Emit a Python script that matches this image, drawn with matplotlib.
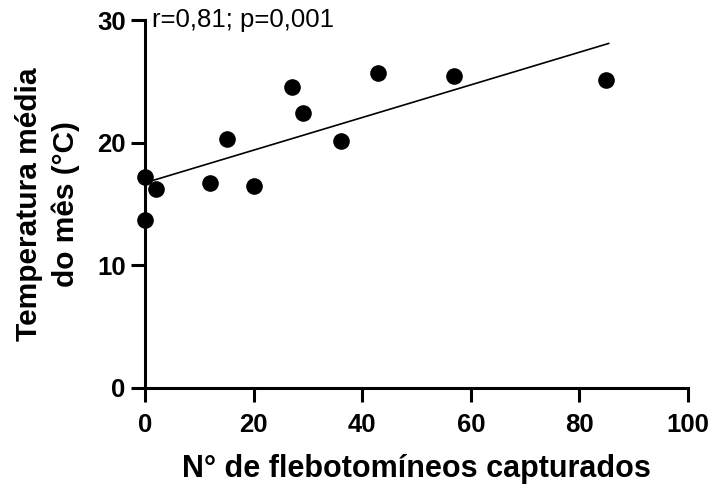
import matplotlib
matplotlib.use('Agg')
import numpy as np
import matplotlib.pyplot as plt

plt.rcParams['font.family'] = ['Liberation Sans', 'DejaVu Sans']

# data
n_flebotomineos = [0, 0, 2, 12, 15, 20, 27, 29, 36, 43, 57, 85]
temperatura = [17.2, 13.7, 16.2, 16.7, 20.3, 16.5, 24.5, 22.4, 20.1, 25.7, 25.4, 25.1]

# regression line
fit_intercept = 16.73
fit_slope = 0.133
fit_x = [0, 85.4]

x_ticks = [0, 20, 40, 60, 80, 100]
y_ticks = [0, 10, 20, 30]

fig = plt.figure(figsize=(7.15, 4.88), dpi=100)
ax = fig.add_axes([0.203, 0.205, 0.759, 0.754])

fit_y = [fit_intercept + fit_slope * x for x in fit_x]
ax.plot(fit_x, fit_y, color='black', linewidth=1.2, zorder=2)
ax.scatter(n_flebotomineos, temperatura, s=120, color='black', zorder=3, clip_on=False)

ax.set_xlim(0, 100)
ax.set_ylim(0, 30)
ax.set_xticks(x_ticks)
ax.set_yticks(y_ticks)

for side in ['top', 'right']:
    ax.spines[side].set_visible(False)
for side in ['left', 'bottom']:
    ax.spines[side].set_linewidth(2.2)

ax.tick_params(axis='both', direction='out', length=10, width=2.2, labelsize=18.5)
ax.tick_params(axis='x', pad=8)
ax.tick_params(axis='y', pad=4)
for lbl in ax.get_xticklabels() + ax.get_yticklabels():
    lbl.set_fontweight('bold')

ax.set_xlabel('N° de flebotomíneos capturados', fontsize=22, fontweight='bold', labelpad=12)
ax.set_ylabel('Temperatura média\ndo mês (°C)', fontsize=21.5, fontweight='bold',
              labelpad=12, linespacing=1.4)

ax.text(1.3, 30, 'r=0,81; p=0,001', fontsize=18.5, ha='left', va='center')

fig.savefig('out.png', dpi=100)
